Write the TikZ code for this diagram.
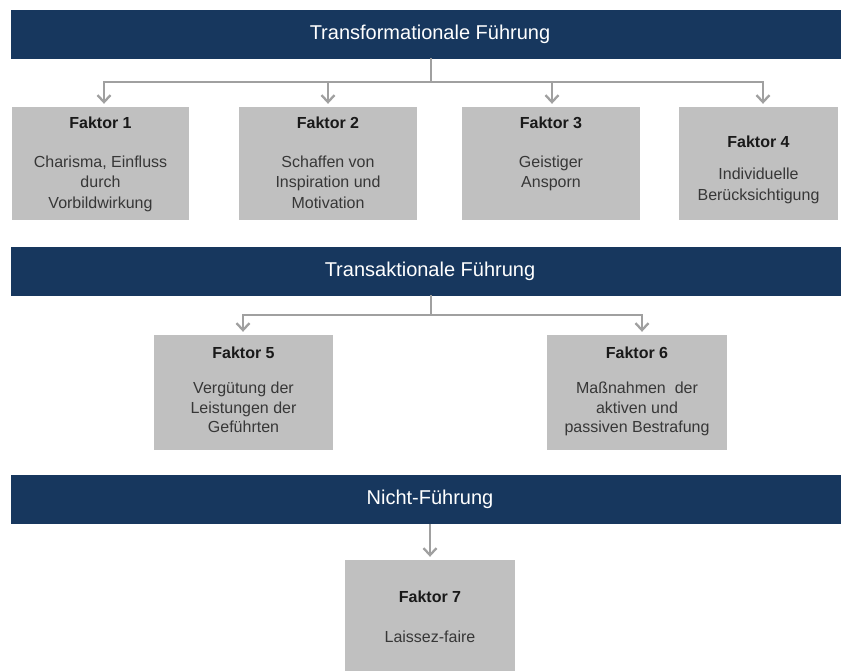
\documentclass[tikz,border=0pt]{standalone}
\usepackage{fontspec}
\setmainfont{Liberation Sans}
\usetikzlibrary{arrows.meta}
\definecolor{navy}{RGB}{23,55,94}
\definecolor{boxgray}{RGB}{192,192,192}
\definecolor{linkgray}{RGB}{160,160,160}
\definecolor{titlecol}{RGB}{25,25,25}
\definecolor{bodycol}{RGB}{55,55,55}
\begin{document}
\begin{tikzpicture}[x=1pt,y=-1pt,
  banner/.style={draw=none,fill=navy,minimum width=830pt,minimum height=49pt,inner sep=0pt,
    text=white,font=\fontsize{20}{24}\selectfont},
  factorbox/.style={draw=none,fill=boxgray,inner sep=0pt},
  ttl/.style={anchor=base,inner sep=0pt,text=titlecol,font=\fontsize{16}{20}\selectfont\bfseries},
  bdy/.style={anchor=base,inner sep=0pt,text=bodycol,font=\fontsize{16}{20}\selectfont},
  bus/.style={draw=linkgray,line width=2.8pt,line cap=rect},
  arr/.style={draw=linkgray,line width=2.8pt,-{Straight Barb[length=7pt,width=13pt,line width=2.3pt]},shorten >=3pt}
]
\useasboundingbox (0,0) rectangle (841,670);
\clip (0,0) rectangle (841,670);
\fill[white] (0,0) rectangle (841,670);

% --- header bars (titles sit a little right of the bar centre) ---
\node[banner] (ban1) at (426,34.5) {\hspace*{8pt}Transformationale Führung};
\node[banner] (ban2) at (426,271.5) {\hspace*{8pt}Transaktionale Führung};
\node[banner] (ban3) at (426,499.5) {\hspace*{8pt}Nicht-Führung};

% --- factor boxes ---
\node[factorbox,minimum width=177pt,minimum height=113pt] (f1) at (100.5,163.5) {};
\node[factorbox,minimum width=178pt,minimum height=113pt] (f2) at (328,163.5) {};
\node[factorbox,minimum width=178pt,minimum height=113pt] (f3) at (551,163.5) {};
\node[factorbox,minimum width=159pt,minimum height=113pt] (f4) at (758.5,163.5) {};
\node[factorbox,minimum width=179pt,minimum height=115pt] (f5) at (243.5,392.5) {};
\node[factorbox,minimum width=180pt,minimum height=115pt] (f6) at (637,392.5) {};
\node[factorbox,minimum width=170pt,minimum height=114pt] (f7) at (430,617) {};

% --- box texts ---
\node[ttl] (t1) at (100.5,128.5) {Faktor 1};
\node[bdy] (t1a) at (100.5,167) {Charisma, Einfluss};
\node[bdy] (t1b) at (100.5,187.5) {durch};
\node[bdy] (t1c) at (100.5,208) {Vorbildwirkung};

\node[ttl] (t2) at (328,128.5) {Faktor 2};
\node[bdy] (t2a) at (328,167) {Schaffen von};
\node[bdy] (t2b) at (328,187.5) {Inspiration und};
\node[bdy] (t2c) at (328,208) {Motivation};

\node[ttl] (t3) at (551,128.5) {Faktor 3};
\node[bdy] (t3a) at (551,167) {Geistiger};
\node[bdy] (t3b) at (551,187.5) {Ansporn};

\node[ttl] (t4) at (758.5,147) {Faktor 4};
\node[bdy] (t4a) at (758.5,179.5) {Individuelle};
\node[bdy] (t4b) at (758.5,200) {Berücksichtigung};

\node[ttl] (t5) at (243.5,358) {Faktor 5};
\node[bdy] (t5a) at (243.5,393) {Vergütung der};
\node[bdy] (t5b) at (243.5,413) {Leistungen der};
\node[bdy] (t5c) at (243.5,432.5) {Geführten};

\node[ttl] (t6) at (637,358) {Faktor 6};
\node[bdy] (t6a) at (637,393) {Maßnahmen\ \ der};
\node[bdy] (t6b) at (637,413) {aktiven und};
\node[bdy] (t6c) at (637,432.5) {passiven Bestrafung};

\node[ttl] (t7) at (430,602) {Faktor 7};
\node[bdy] (t7a) at (430,642) {Laissez-faire};

% --- connectors, first level ---
\coordinate (j1) at (431,82);
\coordinate (b1) at (104,82);
\coordinate (b2) at (328,82);
\coordinate (b3) at (552,82);
\coordinate (b4) at (763,82);
\draw[bus] (ban1.south -| j1) -- (j1);
\draw[bus] (b1) -- (b4);
\draw[arr] (b1) -- (b1 |- f1.north);
\draw[arr] (b2) -- (b2 |- f2.north);
\draw[arr] (b3) -- (b3 |- f3.north);
\draw[arr] (b4) -- (b4 |- f4.north);

% --- connectors, second level ---
\coordinate (j2) at (431,315);
\coordinate (b5) at (243,315);
\coordinate (b6) at (642,315);
\draw[bus] (ban2.south -| j2) -- (j2);
\draw[bus] (b5) -- (b6);
\draw[arr] (b5) -- (b5 |- f5.north);
\draw[arr] (b6) -- (b6 |- f6.north);

% --- connector, third level ---
\draw[arr] (ban3.south -| f7.north) -- (f7.north);
\end{tikzpicture}
\end{document}
